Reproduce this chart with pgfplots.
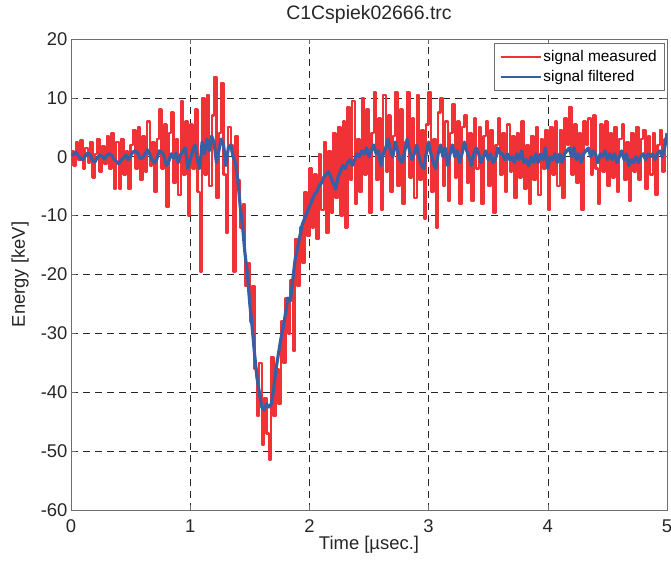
\documentclass[border=0pt]{standalone}
\usepackage{fontspec}
\setmainfont{Liberation Sans}
\usepackage{pgfplots}
\pgfplotsset{compat=1.18}
\usepackage{pgfplotstable}
\definecolor{sigred}{RGB}{240,50,55}
\definecolor{sigblue}{RGB}{55,95,165}
\definecolor{framegray}{RGB}{110,110,110}

\pgfplotstableread{
t r b
0.00 1.0 0.5
0.02 -1.5 0.3
0.04 2.5 0.8
0.06 -0.5 0.2
0.08 2.8 -0.3
0.10 -2.0 -0.5
0.12 1.5 0.2
0.14 -1.0 0.6
0.16 2.5 0.4
0.18 -3.5 -0.6
0.20 0.5 -0.9
0.22 3.0 -0.2
0.24 -2.5 0.3
0.26 1.8 0.1
0.28 -1.2 -0.4
0.30 3.5 0.2
0.32 -2.0 0.5
0.34 4.0 0.3
0.36 -5.5 -0.4
0.38 2.5 -0.8
0.40 -5.5 -1.2
0.42 3.0 -0.6
0.44 -3.0 -0.2
0.46 1.0 0.3
0.48 -5.5 -0.5
0.50 2.0 0.2
0.52 4.5 0.8
0.54 -2.0 1.0
0.56 5.0 0.6
0.58 -4.0 -0.3
0.60 3.5 -0.2
0.62 -2.5 0.4
0.64 6.0 1.2
0.66 -1.5 0.5
0.68 2.5 -0.5
0.70 -6.0 -1.0
0.72 3.0 -0.4
0.74 8.0 1.0
0.76 -2.0 0.8
0.78 5.5 0.2
0.80 -8.5 -1.5
0.82 4.0 -0.8
0.84 7.5 0.5
0.86 -4.5 -0.2
0.88 3.0 0.6
0.90 -6.5 -1.0
0.92 9.5 0.4
0.94 -3.0 1.0
0.96 6.0 1.5
0.98 -10.0 -2.0
1.00 5.5 -0.5
1.02 -2.0 1.0
1.04 8.0 2.0
1.06 -6.0 -0.5
1.08 -19.5 -2.0
1.10 10.0 2.5
1.12 -3.0 0.5
1.14 10.5 3.0
1.16 -5.0 1.0
1.18 7.0 3.5
1.20 13.5 2.5
1.22 -7.0 -1.0
1.24 4.0 1.0
1.26 12.5 3.0
1.28 -3.0 2.0
1.30 -13.0 -1.5
1.32 5.0 1.5
1.34 2.0 2.0
1.36 -19.5 0.0
1.38 3.5 -1.0
1.40 -4.0 -4.0
1.42 -12.0 -8.5
1.44 -8.0 -12.0
1.46 -22.0 -16.5
1.48 -18.0 -20.0
1.50 -28.0 -25.0
1.52 -22.0 -29.0
1.54 -36.0 -33.5
1.56 -44.0 -37.5
1.58 -35.0 -40.0
1.60 -49.0 -42.5
1.62 -41.0 -43.0
1.64 -47.0 -42.0
1.66 -51.5 -42.5
1.68 -34.0 -42.0
1.70 -44.0 -39.5
1.72 -36.0 -36.0
1.74 -42.0 -33.5
1.76 -28.0 -31.0
1.78 -35.0 -29.0
1.80 -24.0 -26.5
1.82 -30.0 -24.0
1.84 -21.0 -24.5
1.86 -33.0 -21.0
1.88 -14.0 -17.5
1.90 -22.0 -15.5
1.92 -12.0 -13.5
1.94 -18.0 -11.5
1.96 -6.0 -10.5
1.98 -13.5 -9.5
2.00 -2.0 -8.5
2.02 -12.0 -7.5
2.04 -3.0 -6.5
2.06 -14.0 -6.0
2.08 0.5 -5.0
2.10 -9.0 -4.5
2.12 2.5 -3.5
2.14 -13.0 -3.0
2.16 1.0 -2.5
2.18 -9.5 -3.5
2.20 4.0 -4.5
2.22 -7.0 -5.5
2.24 5.0 -3.5
2.26 -10.0 -2.5
2.28 6.0 -1.5
2.30 -12.0 -2.0
2.32 8.5 -1.0
2.34 -4.0 -0.5
2.36 9.5 -1.5
2.38 -8.0 -0.5
2.40 3.0 0.5
2.42 -6.0 0.0
2.44 10.0 1.0
2.46 -3.0 0.5
2.48 8.0 1.5
2.50 -9.5 0.0
2.52 4.0 1.0
2.54 11.0 2.0
2.56 -4.0 0.5
2.58 6.5 1.0
2.60 -9.0 -1.5
2.62 10.5 0.5
2.64 -2.5 1.5
2.66 7.0 3.0
2.68 -6.0 1.0
2.70 3.5 0.0
2.72 11.0 2.5
2.74 -5.0 1.0
2.76 8.0 -0.5
2.78 -8.0 -1.0
2.80 2.5 1.0
2.82 11.0 3.0
2.84 -3.5 1.0
2.86 6.5 -0.5
2.88 -7.0 0.5
2.90 10.5 2.0
2.92 -4.0 0.0
2.94 4.5 -1.5
2.96 -10.5 -2.0
2.98 5.5 0.5
3.00 11.0 2.5
3.02 -6.0 0.5
3.04 3.0 -1.0
3.06 -12.0 -2.0
3.08 7.5 0.5
3.10 10.0 2.0
3.12 -5.0 0.0
3.14 6.0 1.5
3.16 -7.5 -1.5
3.18 4.0 0.5
3.20 9.0 2.0
3.22 -3.5 0.0
3.24 6.0 1.0
3.26 -8.0 -1.0
3.28 5.0 0.5
3.30 7.0 2.5
3.32 -4.5 1.0
3.34 4.0 0.0
3.36 -7.5 -1.5
3.38 6.5 0.5
3.40 -2.0 1.5
3.42 5.0 0.5
3.44 -8.0 -1.0
3.46 3.5 0.0
3.48 6.0 1.0
3.50 -5.0 -0.5
3.52 4.5 0.5
3.54 -9.5 -1.0
3.56 2.0 -0.5
3.58 6.5 1.5
3.60 -3.0 0.5
3.62 4.0 0.5
3.64 -6.0 -0.5
3.66 5.5 0.5
3.68 -2.5 -0.5
3.70 3.5 0.0
3.72 -7.0 -1.0
3.74 4.0 0.5
3.76 -3.5 -0.5
3.78 6.0 1.0
3.80 -5.5 -1.0
3.82 2.0 -0.5
3.84 -8.0 -1.5
3.86 3.5 0.0
3.88 -4.0 -1.0
3.90 5.0 0.5
3.92 -6.5 -1.0
3.94 3.0 0.5
3.96 -2.0 -0.5
3.98 4.5 1.5
4.00 -9.0 -2.0
4.02 5.0 0.0
4.04 -3.0 -0.5
4.06 6.0 0.5
4.08 -5.0 -1.0
4.10 4.5 0.5
4.12 -7.0 -1.0
4.14 6.5 0.5
4.16 2.0 1.0
4.18 8.5 1.5
4.20 -3.0 0.0
4.22 5.5 1.5
4.24 -4.5 -0.5
4.26 4.0 0.5
4.28 -9.0 -1.0
4.30 6.0 0.5
4.32 2.0 1.0
4.34 6.5 1.5
4.36 -3.0 0.0
4.38 7.0 1.0
4.40 -2.0 0.5
4.42 -8.0 -1.0
4.44 5.5 0.5
4.46 -2.5 0.0
4.48 6.0 1.0
4.50 -5.0 -0.5
4.52 4.0 0.5
4.54 -3.5 -0.5
4.56 5.0 0.5
4.58 -6.0 -1.0
4.60 3.0 0.0
4.62 5.5 1.0
4.64 -4.0 -0.5
4.66 2.5 0.5
4.68 -7.5 -1.5
4.70 4.0 -0.5
4.72 -2.5 -1.0
4.74 5.0 0.0
4.76 -4.0 -1.0
4.78 3.0 0.0
4.80 4.5 0.5
4.82 -5.5 -0.5
4.84 3.5 0.5
4.86 -3.0 0.0
4.88 4.0 0.5
4.90 -6.5 -0.5
4.92 2.0 0.5
4.94 4.5 1.0
4.96 -2.5 0.0
4.98 3.0 1.5
5.00 4.0 4.0
}\sig

\begin{document}
\begin{tikzpicture}
\begin{axis}[
  name=ax,
  scale only axis,
  width=596bp, height=471bp,
  xmin=0, xmax=5, ymin=-60, ymax=20,
  xtick={0,1,2,3,4,5},
  xticklabels={0,1,2,3,4,5},
  ytick={-60,-50,-40,-30,-20,-10,0,10,20},
  yticklabels={-60,-50,-40,-30,-20,-10,0,10,20},
  grid=major,
  major grid style={black!85, dash pattern=on 7bp off 5bp, line width=0.5bp},
  axis line style={framegray, line width=0.7bp},
  tick style={framegray, line width=0.6bp},
  tick align=inside,
  major tick length=5bp,
  ticklabel style={font=\fontsize{18.5}{22}\selectfont, text=black!85},
  xticklabel style={anchor=base, yshift=-22bp},
  /pgf/number format/assume math mode=true,
  title={C1Cspiek02666.trc},
  title style={font=\fontsize{19.5}{23}\selectfont, text=black!85, at={(axis description cs:0.5,1.0297)}, anchor=base},
  xlabel={Time [µsec.]},
  ylabel={Energy [keV]},
  xlabel style={font=\fontsize{18.5}{22}\selectfont, text=black!85, at={(axis description cs:0.5,-0.0849)}, anchor=base},
  ylabel style={font=\fontsize{18.5}{22}\selectfont, text=black!85, at={(axis description cs:-0.0772,0.5)}, anchor=base, rotate=0},
  legend style={at={(axis description cs:1,1)}, anchor=north east, xshift=-2bp, yshift=-4bp,
    draw=framegray, line width=0.6bp, fill=white,
    font=\fontsize{15.5}{18}\selectfont,
    inner xsep=6bp, inner ysep=5.5bp, row sep=3bp, cells={anchor=west}},
  legend image code/.code={\draw[#1] (0bp,0bp) -- (40bp,0bp);},
]
\addplot[forget plot, const plot, color=sigred, line width=2.3bp, line join=round] table[x=t, y=r] {\sig};
\addplot[forget plot, color=sigblue, line width=3.2bp, line join=round] table[x=t, y=b] {\sig};
\addlegendimage{draw=sigred, line width=1.5bp}
\addlegendentry{signal measured}
\addlegendimage{draw=sigblue, line width=1.5bp}
\addlegendentry{signal filtered}
\end{axis}
\pgfresetboundingbox
\path[use as bounding box] ([xshift=-71bp,yshift=-53bp]ax.south west) rectangle ([xshift=4bp,yshift=39bp]ax.north east);
\end{tikzpicture}
\end{document}
